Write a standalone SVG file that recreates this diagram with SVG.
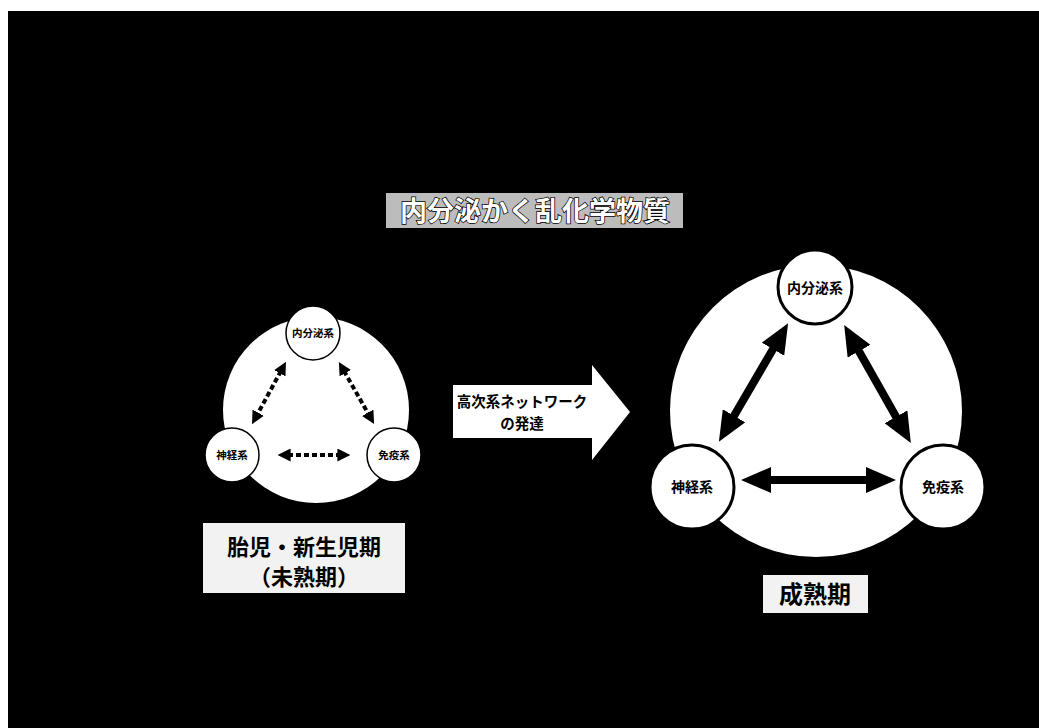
<svg xmlns="http://www.w3.org/2000/svg" width="1039" height="728" viewBox="0 0 1039 728">
<defs>
<style>
.jp{font-family:"Noto Sans CJK JP","Noto Sans CJK SC",sans-serif;text-anchor:middle}
.node{fill:#fff;stroke:#000}
.big{fill:#fff;stroke:none}
.dash{stroke:#000;stroke-width:4;stroke-dasharray:5 3;fill:none}
.solid{stroke:#000;stroke-width:8;fill:none}
.lbl{fill:#f2f2f2}
</style>
<marker id="hs" viewBox="0 0 10 10" refX="2" refY="5" markerUnits="userSpaceOnUse" markerWidth="13" markerHeight="13" orient="auto-start-reverse">
<path d="M0,0 L10,5 L0,10 z" fill="#000"/>
</marker>
<marker id="hl" viewBox="0 0 10 10" refX="2" refY="5" markerUnits="userSpaceOnUse" markerWidth="30" markerHeight="26" orient="auto-start-reverse" preserveAspectRatio="none">
<path d="M0,0 L10,5 L0,10 z" fill="#000"/>
</marker>
</defs>
<rect x="0" y="0" width="1039" height="728" fill="#fff"/>
<rect x="8" y="11" width="1031" height="717" fill="#000"/>

<g id="title">
<rect x="386" y="193" width="297" height="35" fill="#bcbcbc"/>
<text class="jp" x="535" y="221" font-size="27" font-weight="bold" fill="#fff" stroke="#000" stroke-width="1.5" paint-order="stroke">内分泌かく乱化学物質</text>
</g>

<g id="left-bg"><circle class="big" cx="316" cy="410" r="93"/></g>
<g id="right-bg"><circle class="big" cx="816" cy="411" r="146"/></g>

<g id="connectors">
<line class="dash" x1="281" y1="371" x2="257" y2="415" marker-start="url(#hs)" marker-end="url(#hs)"/>
<line class="dash" x1="344" y1="371" x2="369" y2="415" marker-start="url(#hs)" marker-end="url(#hs)"/>
<line class="dash" x1="288" y1="455" x2="340" y2="455" marker-start="url(#hs)" marker-end="url(#hs)"/>
<line class="solid" x1="776" y1="344" x2="731" y2="421" marker-start="url(#hl)" marker-end="url(#hl)"/>
<line class="solid" x1="856" y1="346" x2="899" y2="422" marker-start="url(#hl)" marker-end="url(#hl)"/>
<line class="solid" x1="765" y1="480" x2="872" y2="480" marker-start="url(#hl)" marker-end="url(#hl)"/>
</g>

<g id="l-endo"><circle class="node" cx="313" cy="333" r="27" stroke-width="1.5"/><text class="jp" x="313" y="337" font-size="10.5" font-weight="bold">内分泌系</text></g>
<g id="l-nerve"><circle class="node" cx="232" cy="455" r="27" stroke-width="1.5"/><text class="jp" x="232" y="459" font-size="10.5" font-weight="bold">神経系</text></g>
<g id="l-immune"><circle class="node" cx="394" cy="455" r="27" stroke-width="1.5"/><text class="jp" x="394" y="459" font-size="10.5" font-weight="bold">免疫系</text></g>

<g id="r-endo"><circle class="node" cx="815" cy="287" r="37" stroke-width="3"/><text class="jp" x="815" y="293" font-size="14" font-weight="bold">内分泌系</text></g>
<g id="r-nerve"><circle class="node" cx="692" cy="487" r="42" stroke-width="3"/><text class="jp" x="692" y="492" font-size="14" font-weight="bold">神経系</text></g>
<g id="r-immune"><circle class="node" cx="943" cy="487" r="42" stroke-width="3"/><text class="jp" x="943" y="492" font-size="14" font-weight="bold">免疫系</text></g>

<g id="dev-arrow">
<polygon points="453,385 592,385 592,365 630,412 592,460 592,438 453,438" fill="#fff"/>
<text class="jp" x="522" y="407" font-size="14.5" font-weight="bold">高次系ネットワーク</text>
<text class="jp" x="522" y="429" font-size="14.5" font-weight="bold">の発達</text>
</g>

<g id="label-immature">
<rect class="lbl" x="203" y="523" width="202" height="70"/>
<text class="jp" x="304" y="555" font-size="22" font-weight="bold">胎児・新生児期</text>
<text class="jp" x="304" y="585" font-size="22" font-weight="bold">（未熟期）</text>
</g>

<g id="label-mature">
<rect class="lbl" x="763" y="575" width="105" height="38"/>
<text class="jp" x="815" y="603" font-size="24" font-weight="bold">成熟期</text>
</g>
</svg>
